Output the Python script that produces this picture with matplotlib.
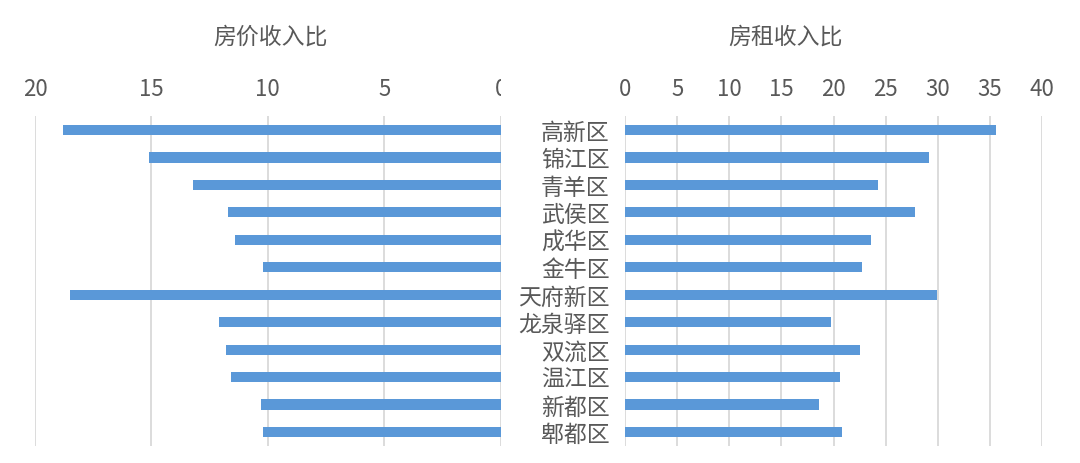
import matplotlib
matplotlib.use("Agg")
import matplotlib.pyplot as plt
from matplotlib.transforms import Bbox, TransformedBbox

plt.rcParams['font.family'] = ['Noto Sans CJK SC', 'DejaVu Sans']

districts = ["高新区", "锦江区", "青羊区", "武侯区", "成华区", "金牛区",
             "天府新区", "龙泉驿区", "双流区", "温江区", "新都区", "郫都区"]
price_income = [18.8, 15.1, 13.2, 11.7, 11.4, 10.2, 18.5, 12.1, 11.8, 11.6, 10.3, 10.2]
rent_income = [35.6, 29.2, 24.3, 27.8, 23.6, 22.7, 29.9, 19.8, 22.5, 20.6, 18.6, 20.8]
left_title = "房价收入比"
right_title = "房租收入比"
left_ticks = [20, 15, 10, 5, 0]
right_ticks = [0, 5, 10, 15, 20, 25, 30, 35, 40]

BAR = '#5a98d8'
GRID = '#d9d9d9'
TXT = '#595959'

W, H = 1080, 464
fig = plt.figure(figsize=(W / 100, H / 100), dpi=100)

top = 1 - 117.3 / H
bot = 1 - 446.7 / H
axL = fig.add_axes([35 / W, bot, (500.7 - 35) / W, top - bot])
axR = fig.add_axes([625 / W, bot, (1042 - 625) / W, top - bot])

ypos = list(range(len(districts)))

for ax, vals, ticks, lim in ((axL, price_income, left_ticks, (20, 0)),
                             (axR, rent_income, right_ticks, (0, 40))):
    ax.barh(ypos, vals, height=0.37, color=BAR, zorder=3)
    ax.set_xlim(*lim)
    ax.set_ylim(11.5, -0.5)
    ax.set_xticks(ticks)
    ax.set_xticklabels([str(t) for t in ticks])
    ax.xaxis.tick_top()
    ax.tick_params(axis='x', length=0, pad=12, labelsize=16, labelcolor=TXT)
    ax.grid(axis='x', color=GRID, linewidth=1.3, zorder=0)
    for s in ax.spines.values():
        s.set_visible(False)

axL.set_yticks([])
axR.set_yticks(ypos)
axR.set_yticklabels(districts)
axR.tick_params(axis='y', length=0, pad=11, labelsize=16.5, labelcolor=TXT)

for ax in (axL, axR):
    for lab in ax.get_xticklabels() + ax.get_yticklabels():
        lab.set_fontweight('light')

# clip the "0" label of the left axis like the reference
clipbox = TransformedBbox(Bbox([[0, 0], [501 / W, 1]]), fig.transFigure)
for lab in axL.get_xticklabels():
    lab.set_clip_box(clipbox)
    lab.set_clip_on(True)

fig.text(270 / W, 1 - 37 / H, left_title, ha='center', va='center', fontsize=16.5,
         color=TXT, fontweight='light')
fig.text(785 / W, 1 - 37 / H, right_title, ha='center', va='center', fontsize=16.5,
         color=TXT, fontweight='light')

fig.savefig("out.png", dpi=100, facecolor='white')
